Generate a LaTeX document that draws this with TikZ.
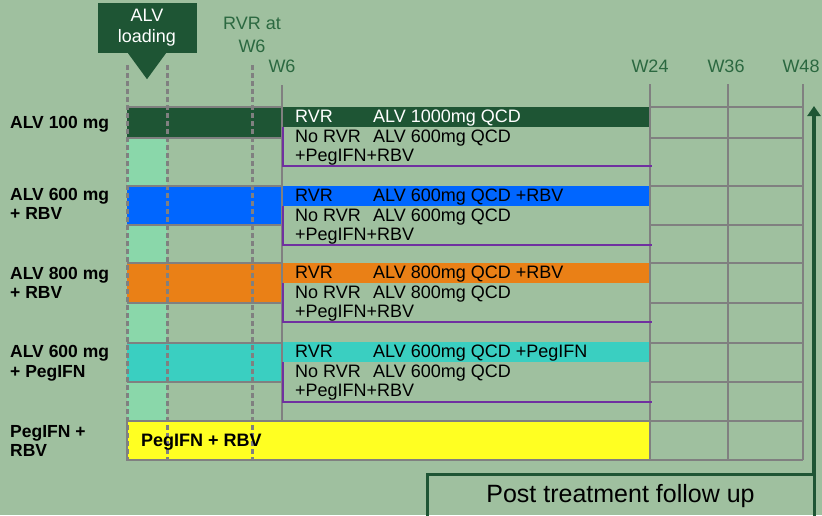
\documentclass[tikz,border=0pt]{standalone}
\usepackage{fontspec}
\setmainfont{Liberation Sans}
\usepackage{tikz}
\usetikzlibrary{positioning, arrows.meta}

\definecolor{bg}{HTML}{9FC09F}
\definecolor{dkgreen}{HTML}{1E5534}
\definecolor{wkgreen}{HTML}{2B6840}
\definecolor{mint}{HTML}{8AD7AA}
\definecolor{gridgray}{HTML}{808080}
\definecolor{rvrblue}{HTML}{0066FF}
\definecolor{rvrorange}{HTML}{EA8016}
\definecolor{rvrteal}{HTML}{3ACFC1}
\definecolor{pegyellow}{HTML}{FFFF22}
\definecolor{nopurple}{HTML}{7030A0}

\begin{document}
\begin{tikzpicture}[x=1pt, y=-1pt, font=\fontsize{18}{20}\selectfont,
    txt/.style={anchor=base west, inner sep=0pt},
    head/.style={anchor=base, inner sep=0pt, text=wkgreen},
    arm/.style={anchor=base west, inner sep=0pt, font=\fontsize{17.5}{20}\selectfont\bfseries},
    gridline/.style={draw=gridgray, line width=2.3pt},
    weekdash/.style={draw=gridgray, line width=3pt, dash pattern=on 5pt off 3pt},
    rvrline/.style={draw=nopurple, line width=2.2pt}]

  % Sfondo
  \clip (0,0) rectangle (822,515);
  \fill[bg] (0,0) rectangle (822,515);

  % Fase di carico
  \node[fill=dkgreen, text=white, align=center, minimum width=99pt, minimum height=50pt,
        inner sep=0pt, font=\fontsize{18}{21}\selectfont] (load) at (147,28) {ALV\\loading};
  \fill[dkgreen] ([xshift=-19pt]load.south) -- ([xshift=19pt]load.south)
                 -- ([yshift=-26pt]load.south) -- cycle;

  % Strisce di carico
  \foreach \a/\b in {138/186, 225/263, 303/343, 382/421}
    \fill[mint] (127,\a) rectangle (167,\b);

  % Bracci
  \fill[dkgreen] (127,107) rectangle (282,138);
  \fill[rvrblue] (127,186) rectangle (282,225);
  \fill[rvrorange] (127,263) rectangle (282,303);
  \fill[rvrteal] (127,343) rectangle (282,382);
  \filldraw[fill=pegyellow, gridline] (127,421) rectangle (650,460);

  % RVR
  \fill[dkgreen] (282,107) rectangle (650,127);
  \fill[rvrblue] (282,186) rectangle (650,206);
  \fill[rvrorange] (282,263) rectangle (650,283);
  \fill[rvrteal] (282,342) rectangle (650,362);

  % Griglia
  \foreach \a in {107,138,186,225,263,303,343,382}
    \draw[gridline] (127,\a) -- (282,\a);
  \foreach \a in {107,138,186,225,263,303,343,382,421,460}
    \draw[gridline] (650,\a) -- (803,\a);
  \draw[gridline] (282,85) -- (282,421);
  \foreach \x in {650,728,803}
    \draw[gridline] (\x,84) -- (\x,460);

  % No RVR
  \foreach \a/\b in {127/166, 206/245, 283/322, 362/402}
    \draw[rvrline] (283,\a) -- (283,\b) -- (652,\b);

  % Settimane
  \foreach \x in {127,167,252}
    \draw[weekdash] (\x,65) -- (\x,460);
  \node[head] (rvrat) at (252,29) {RVR at};
  \node[head, below=23pt of rvrat.base, anchor=base] (rvrw6) {W6};
  \node[head] (w6) at (282,72) {W6};
  \node[head] (w24) at (650,72) {W24};
  \node[head] (w36) at (726,72) {W36};
  \node[head] (w48) at (801,72) {W48};

  % Etichette dei bracci
  \node[arm] (arm1) at (10,128) {ALV 100 mg};
  \node[arm] (arm2) at (10,200) {ALV 600 mg};
  \node[arm, below=19pt of arm2.base west, anchor=base west] (arm2b) {+ RBV};
  \node[arm] (arm3) at (10,279) {ALV 800 mg};
  \node[arm, below=19pt of arm3.base west, anchor=base west] (arm3b) {+ RBV};
  \node[arm] (arm4) at (10,357) {ALV 600 mg};
  \node[arm, below=20pt of arm4.base west, anchor=base west] (arm4b) {+ PegIFN};
  \node[arm] (arm5) at (10,437) {PegIFN +};
  \node[arm, below=19pt of arm5.base west, anchor=base west] (arm5b) {RBV};
  \node[arm, font=\fontsize{18}{20}\selectfont\bfseries] (soc) at (141,446) {PegIFN + RBV};

  % Braccio 1
  \node[txt, text=white] (rvr1) at (295,122) {RVR};
  \node[txt, text=white] (alv1) at (373,122) {ALV 1000mg QCD};
  \node[txt, below=20pt of rvr1.base west, anchor=base west] (norvr1) {No RVR};
  \node[txt, below=20pt of alv1.base west, anchor=base west] (alvn1) {ALV 600mg QCD};
  \node[txt, below=19pt of norvr1.base west, anchor=base west] (peg1) {+PegIFN+RBV};

  % Braccio 2
  \node[txt] (rvr2) at (295,201) {RVR};
  \node[txt] (alv2) at (373,201) {ALV 600mg QCD +RBV};
  \node[txt, below=20pt of rvr2.base west, anchor=base west] (norvr2) {No RVR};
  \node[txt, below=20pt of alv2.base west, anchor=base west] (alvn2) {ALV 600mg QCD};
  \node[txt, below=19pt of norvr2.base west, anchor=base west] (peg2) {+PegIFN+RBV};

  % Braccio 3
  \node[txt] (rvr3) at (295,278) {RVR};
  \node[txt] (alv3) at (373,278) {ALV 800mg QCD +RBV};
  \node[txt, below=20pt of rvr3.base west, anchor=base west] (norvr3) {No RVR};
  \node[txt, below=20pt of alv3.base west, anchor=base west] (alvn3) {ALV 800mg QCD};
  \node[txt, below=19pt of norvr3.base west, anchor=base west] (peg3) {+PegIFN+RBV};

  % Braccio 4
  \node[txt] (rvr4) at (295,357) {RVR};
  \node[txt] (alv4) at (373,357) {ALV 600mg QCD +PegIFN};
  \node[txt, below=20pt of rvr4.base west, anchor=base west] (norvr4) {No RVR};
  \node[txt, below=20pt of alv4.base west, anchor=base west] (alvn4) {ALV 600mg QCD};
  \node[txt, below=19pt of norvr4.base west, anchor=base west] (peg4) {+PegIFN+RBV};

  % Follow up
  \node[draw=dkgreen, line width=3pt, minimum width=387pt, minimum height=44pt,
        inner sep=0pt, outer sep=0pt, anchor=north west, font=\fontsize{25}{28}\selectfont]
        (post) at (427,474) {Post treatment follow up};
  \coordinate (fuend) at (814,106);
  \draw[dkgreen, line width=4pt, -{Triangle[length=10pt, width=13pt]}] (post.north east) -- (fuend);
\end{tikzpicture}
\end{document}
